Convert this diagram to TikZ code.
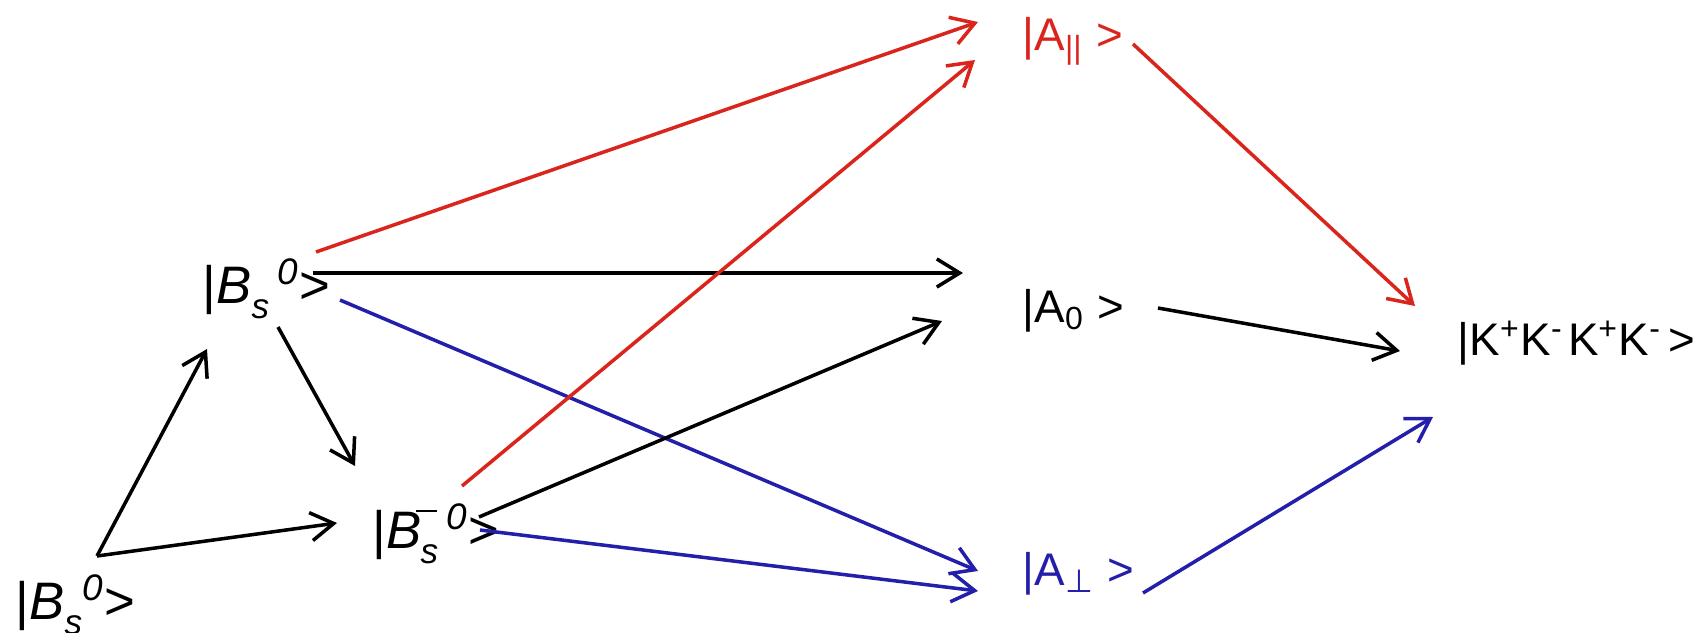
\documentclass[tikz,border=0pt]{standalone}
\usepackage{fontspec}
\setmainfont{Liberation Sans}
\newfontfamily\symfont{DejaVu Sans}
\usetikzlibrary{positioning, calc, arrows.meta}

\definecolor{ampred}{RGB}{218,37,29}
\definecolor{ampblue}{RGB}{35,31,170}

% B-bar with the offset bar of the original
\newcommand{\Bbar}{\textit{B}\kern-0.1em\rule[0.68em]{0.4em}{0.05em}\kern-0.32em}
% deep subscript s as in the original
\newcommand{\subs}{\raisebox{-0.3em}{\fontsize{10}{12}\selectfont\textit{s}}}

\tikzset{
    state/.style={inner sep=0pt, anchor=base west, font=\fontsize{15}{18}\selectfont},
    amp/.style={inner sep=0pt, anchor=base west, font=\fontsize{13}{16}\selectfont},
    arr/.style={line width=1pt, -{Straight Barb[length=6.5pt,width=8pt]}},
}

\begin{document}
\begin{tikzpicture}[x=0.01cm, y=-0.01cm]

    \useasboundingbox (0,0) rectangle (1708,633);

    % initial and mixed states
    \node[state] (b0) at (15,619) {|\textit{B}\subs\textsuperscript{\textit{0}}>};
    \coordinate (start) at (97,556);
    \node[state] (bs) at (202,303) {|\textit{B}\subs\kern0.15em\textsuperscript{\textit{0}}>};
    \node[state] (bbar) at (372,548) {|\Bbar\subs\kern0.15em\textsuperscript{\textit{0}}>};

    % amplitudes
    \node[amp, text=ampred] (apar) at (1022,50) {|A\textsubscript{||} >};
    \node[amp] (azero) at (1022,322) {|A\textsubscript{0} >};
    \node[amp, text=ampblue] (aperp) at (1022,585) {|A\textsubscript{\symfont ⊥} >};

    % final state
    \node[state, font=\fontsize{13}{16}\selectfont] (kk) at (1457,355)
        {|K\textsuperscript{+}K\textsuperscript{-}\kern0.1em K\textsuperscript{+}K\textsuperscript{-}\kern0.15em>};

    % mixing
    \draw[arr] (start) -- ([shift={(5,46)}]bs.base west);
    \draw[arr] (start) -- ([shift={(-35,-25)}]bbar.base west);
    \draw[arr] ([shift={(76,24)}]bs.base west) -- ([shift={(-17,-82)}]bbar.base west);

    % decays of B_s
    \draw[arr, ampred] ([shift={(114,-51)}]bs.base west) -- ([shift={(-44,-28)}]apar.base west);
    \draw[arr] ([shift={(111,-30)}]bs.base west) -- ([shift={(-59,-49)}]azero.base west);
    \draw[arr, ampblue] ([shift={(138,-3)}]bs.base west) -- ([shift={(-44,-14)}]aperp.base west);

    % decays of B_s bar
    \draw[arr, ampred] ([shift={(90,-62)}]bbar.base west) -- ([shift={(-47,10)}]apar.base west);
    \draw[arr] ([shift={(107,-31)}]bbar.base west) -- ([shift={(-80,-1)}]azero.base west);
    \draw[arr, ampblue] ([shift={(108,-18)}]bbar.base west) -- ([shift={(-44,6)}]aperp.base west);

    % into the final state
    \draw[arr, ampred] ([shift={(111,-6)}]apar.base west) -- ([shift={(-42,-49)}]kk.base west);
    \draw[arr] ([shift={(136,-14)}]azero.base west) -- ([shift={(-57,-4)}]kk.base west);
    \draw[arr, ampblue] ([shift={(121,8)}]aperp.base west) -- ([shift={(-24,62)}]kk.base west);

\end{tikzpicture}
\end{document}
